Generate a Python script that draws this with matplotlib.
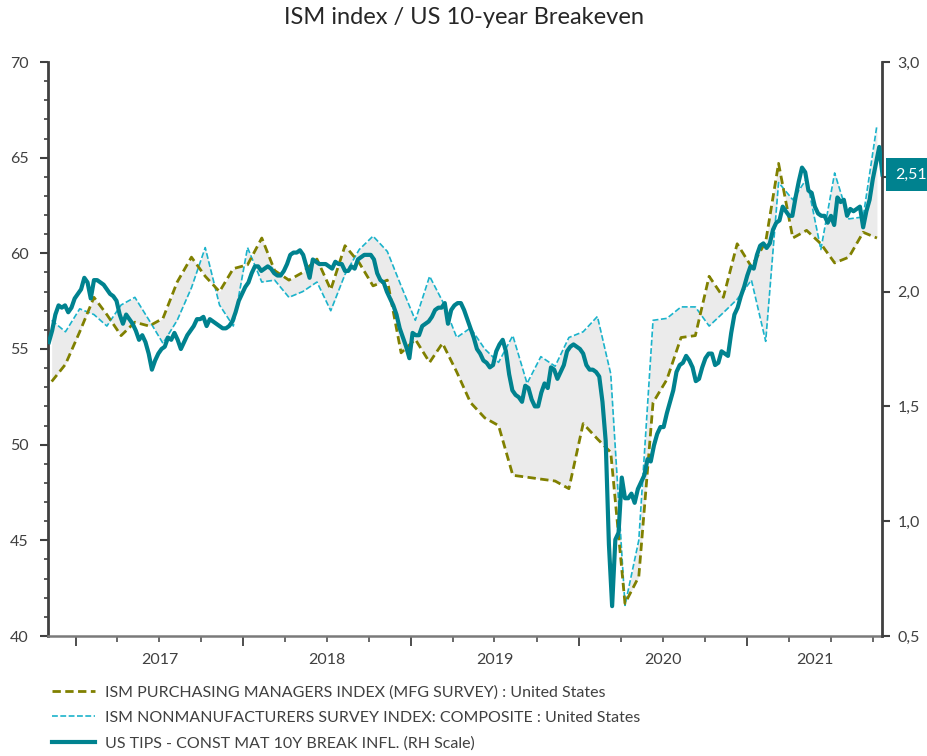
import matplotlib
matplotlib.use('Agg')
import matplotlib.pyplot as plt
import matplotlib.dates as mdates
import matplotlib.ticker as mticker
import matplotlib.transforms as mtransforms
from matplotlib.lines import Line2D
import pandas as pd
import numpy as np

plt.rcParams['font.family'] = ['Lato', 'DejaVu Sans']

# ---------------- data ----------------
title = "ISM index / US 10-year Breakeven"
pmi_label = "ISM PURCHASING MANAGERS INDEX (MFG SURVEY) : United States"
nmi_label = "ISM NONMANUFACTURERS SURVEY INDEX: COMPOSITE : United States"
be_label = "US TIPS - CONST MAT 10Y BREAK INFL. (RH Scale)"

# monthly ISM values, Nov 2016 .. Oct 2021
ism_start = "2016-11-01"
pmi = [53.3, 54.2, 55.9, 57.7, 56.8, 55.7, 56.4, 56.2, 56.6, 58.5,
       59.8, 58.8, 58.0, 59.2, 59.4, 60.8, 59.1, 58.6, 59.0, 59.7,
       58.1, 60.4, 59.5, 58.3, 58.6, 54.8, 55.5, 54.3, 55.3, 53.8,
       52.2, 51.4, 51.0, 48.4, 48.3, 48.2, 48.1, 47.7, 51.1, 50.3,
       49.6, 41.7, 43.1, 52.2, 53.4, 55.6, 55.7, 58.8, 57.7, 60.5,
       59.3, 60.6, 64.7, 60.8, 61.2, 60.5, 59.5, 59.8, 61.1, 60.8]
nmi = [56.5, 55.9, 57.1, 56.8, 56.2, 57.3, 57.7, 56.5, 55.3, 56.5,
       58.2, 60.3, 57.3, 56.2, 60.3, 58.5, 58.6, 57.7, 58.0, 58.5,
       57.0, 58.9, 60.2, 60.9, 60.1, 58.3, 56.5, 58.8, 57.5, 55.6,
       56.1, 55.0, 54.3, 55.7, 53.2, 54.6, 54.1, 55.6, 55.9, 56.7,
       53.7, 41.6, 45.0, 56.5, 56.6, 57.2, 57.2, 56.2, 56.9, 57.6,
       58.6, 55.4, 63.7, 62.8, 63.9, 60.2, 64.2, 61.8, 61.9, 66.7]

# weekly 10y breakeven (%), from 4 Nov 2016
be_start = "2016-11-04"
be = [1.78, 1.83, 1.90, 1.94, 1.93, 1.94, 1.91, 1.93, 1.97, 1.99,
      2.01, 2.06, 2.04, 1.97, 2.05, 2.05, 2.04, 2.03, 2.01, 1.99,
      1.98, 1.96, 1.90, 1.86, 1.90, 1.88, 1.86, 1.83, 1.79, 1.81,
      1.78, 1.73, 1.66, 1.70, 1.73, 1.75, 1.76, 1.80, 1.79, 1.82,
      1.79, 1.75, 1.78, 1.81, 1.83, 1.85, 1.88, 1.88, 1.89, 1.85,
      1.88, 1.87, 1.86, 1.85, 1.84, 1.84, 1.85, 1.87, 1.91, 1.96,
      1.99, 2.02, 2.04, 2.08, 2.11, 2.11, 2.09, 2.10, 2.11, 2.10,
      2.08, 2.07, 2.07, 2.09, 2.12, 2.16, 2.17, 2.17, 2.18, 2.16,
      2.11, 2.06, 2.14, 2.13, 2.12, 2.12, 2.12, 2.11, 2.10, 2.13,
      2.12, 2.12, 2.09, 2.09, 2.11, 2.10, 2.14, 2.15, 2.16, 2.16,
      2.16, 2.14, 2.08, 2.05, 2.04, 2.00, 1.97, 1.94, 1.90, 1.84,
      1.80, 1.76, 1.71, 1.82, 1.81, 1.81, 1.85, 1.86, 1.87, 1.89,
      1.92, 1.93, 1.93, 1.95, 1.86, 1.92, 1.94, 1.95, 1.95, 1.92,
      1.88, 1.84, 1.80, 1.75, 1.73, 1.70, 1.69, 1.67, 1.68, 1.74,
      1.77, 1.79, 1.74, 1.64, 1.57, 1.55, 1.54, 1.52, 1.59, 1.58,
      1.53, 1.50, 1.50, 1.56, 1.60, 1.58, 1.67, 1.66, 1.62, 1.65,
      1.68, 1.74, 1.76, 1.77, 1.76, 1.75, 1.73, 1.68, 1.66, 1.66,
      1.65, 1.63, 1.52, 1.35, 0.90, 0.63, 0.92, 0.95, 1.19, 1.10,
      1.10, 1.12, 1.08, 1.14, 1.17, 1.20, 1.27, 1.26, 1.33, 1.38,
      1.41, 1.41, 1.47, 1.52, 1.57, 1.65, 1.68, 1.69, 1.72, 1.70,
      1.67, 1.61, 1.62, 1.67, 1.71, 1.73, 1.73, 1.68, 1.69, 1.74,
      1.73, 1.72, 1.82, 1.90, 1.93, 1.98, 2.02, 2.07, 2.11, 2.10,
      2.16, 2.20, 2.21, 2.19, 2.21, 2.27, 2.30, 2.31, 2.37, 2.35,
      2.33, 2.33, 2.41, 2.48, 2.54, 2.52, 2.44, 2.43, 2.37, 2.34,
      2.33, 2.33, 2.30, 2.33, 2.29, 2.41, 2.39, 2.40, 2.33, 2.36,
      2.35, 2.36, 2.37, 2.28, 2.35, 2.40, 2.49, 2.56, 2.63, 2.51]

year_labels = ["2017", "2018", "2019", "2020", "2021"]

# ---------------- style ----------------
c_pmi = '#808000'
c_nmi = '#1bb3cb'
c_be = '#00828f'
c_fill = '#ebebeb'
c_axis = '#404040'

ism_dates = pd.date_range(ism_start, periods=len(pmi), freq='MS') + pd.Timedelta(days=9)
be_dates = pd.date_range(be_start, periods=len(be), freq='7D')

W, H = 927, 756
fig = plt.figure(figsize=(W / 100, H / 100), dpi=100)
ax = fig.add_axes([48 / W, 1 - 636 / H, (882 - 48) / W, (636 - 62) / H])

ax.fill_between(ism_dates, pmi, nmi, color=c_fill, lw=0, zorder=1)
ax.plot(ism_dates, nmi, color=c_nmi, lw=1.2, dashes=(3.5, 1.5), zorder=2)
ax.plot(ism_dates, pmi, color=c_pmi, lw=2.0, dashes=(3, 1.6), zorder=3)

ax2 = ax.twinx()
ax2.plot(be_dates, be, color=c_be, lw=3.0, solid_joinstyle='round', zorder=4)

ax.set_ylim(40, 70)
ax2.set_ylim(0.5, 3.0)
xmin, xmax = pd.Timestamp('2016-11-02'), pd.Timestamp('2021-10-21')
ax.set_xlim(xmin, xmax)

for a in (ax, ax2):
    a.spines['top'].set_visible(False)
    for s in ('left', 'right', 'bottom'):
        a.spines[s].set_color(c_axis)
        a.spines[s].set_linewidth(2.0)
ax.spines['right'].set_visible(False)
ax2.spines['left'].set_visible(False)
ax2.spines['bottom'].set_visible(False)
ax.spines['bottom'].set_color('#7a7a7a')
ax.spines['bottom'].set_linewidth(1.8)

ax.yaxis.set_major_locator(mticker.MultipleLocator(5))
ax.yaxis.set_minor_locator(mticker.MultipleLocator(1))
ax.tick_params(axis='y', which='major', direction='out', length=6, width=1.5,
               color=c_axis, labelsize=11.5, labelcolor=c_axis, pad=8)
ax.tick_params(axis='y', which='minor', direction='out', length=3, width=1.2, color=c_axis)

last_val = be[-1]


def rh_fmt(v, p):
    # the 2,5 label sits under the last-value tag, as in the reference
    if abs(v - 2.5) < 1e-9:
        return ''
    return f"{v:.1f}".replace('.', ',')


ax2.yaxis.set_major_locator(mticker.MultipleLocator(0.5))
ax2.yaxis.set_major_formatter(mticker.FuncFormatter(rh_fmt))
ax2.tick_params(axis='y', which='major', direction='out', length=6, width=1.5,
                color=c_axis, labelsize=11.5, labelcolor=c_axis, pad=5)

ax.xaxis.set_major_locator(mdates.YearLocator())
ax.xaxis.set_major_formatter(mticker.NullFormatter())
ax.xaxis.set_minor_locator(mdates.MonthLocator(bymonth=[1, 4, 7, 10]))
ax.tick_params(axis='x', which='major', direction='out', length=7, width=1.3, color=c_axis)
ax.tick_params(axis='x', which='minor', direction='out', length=4, width=1.1, color=c_axis)

trans = mtransforms.blended_transform_factory(ax.transData, ax.transAxes)
for lab in year_labels:
    y0 = pd.Timestamp(f"{lab}-01-01")
    y1 = min(pd.Timestamp(f"{int(lab) + 1}-01-01"), xmax)
    mid = y0 + (y1 - y0) / 2
    ax.text(mid, -0.042, lab, transform=trans, ha='center', va='center',
            fontsize=11.5, color=c_axis)

# last value tag
trans2 = mtransforms.blended_transform_factory(ax2.transAxes, ax2.transData)
ax2.text(1.0 + 13 / 834, last_val, f"{last_val:.2f}".replace('.', ','), transform=trans2,
         ha='left', va='center', color='white', fontsize=11.5, zorder=10,
         bbox=dict(boxstyle='square,pad=0.58', fc=c_be, ec='none'), clip_on=False)

fig.text(0.5, 1 - 18 / H, title, ha='center', va='center', fontsize=17, color='#262626')

handles = [Line2D([], [], color=c_pmi, lw=2.0, dashes=(3, 1.6)),
           Line2D([], [], color=c_nmi, lw=1.2, dashes=(3.5, 1.5)),
           Line2D([], [], color=c_be, lw=3.0)]
leg = fig.legend(handles, [pmi_label, nmi_label, be_label], loc='upper left',
                 bbox_to_anchor=(52 / W, 1 - 685 / H), frameon=False, fontsize=11.5,
                 handlelength=2.7, handletextpad=0.6, labelspacing=0.72, borderpad=0,
                 borderaxespad=0)
for t in leg.get_texts():
    t.set_color(c_axis)

fig.savefig('out.png', dpi=100)
